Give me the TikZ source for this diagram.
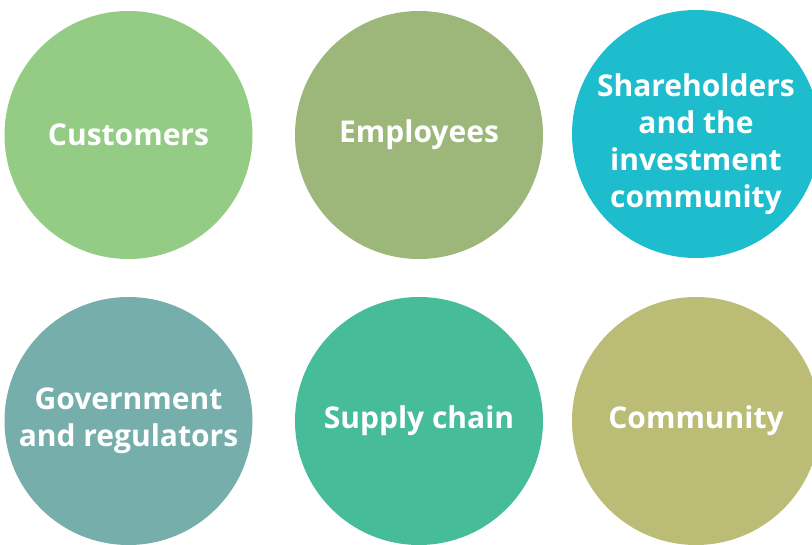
\documentclass[tikz,border=0pt]{standalone}
\usepackage{fontspec}
\setmainfont{Open Sans}
\definecolor{cCust}{HTML}{95CC85}
\definecolor{cEmp}{HTML}{9DB77A}
\definecolor{cShare}{HTML}{1DBDCD}
\definecolor{cGov}{HTML}{76AEAB}
\definecolor{cSup}{HTML}{46BC99}
\definecolor{cComm}{HTML}{BBBC76}
\tikzset{
  stakefont/.style={text=white, font=\fontsize{30}{37}\selectfont\bfseries, align=center},
  stake/.style={circle, minimum size=248pt, inner sep=0pt, stakefont}
}
\begin{document}
\begin{tikzpicture}[x=1pt,y=-1pt]
\useasboundingbox (0,0) rectangle (812,545);
\begin{scope}
\clip (0,0) rectangle (812,545);
\node[stake, fill=cCust] (cust) at (128.5,135) {Customers};
\node[stake, fill=cEmp] (emp) at (419,135) {Employees};
\node[stake, fill=cShare] (share) at (696,134) {};
\node[stakefont] (sharetext) at (696,144) {Shareholders\\and the\\investment\\community};
\node[stake, fill=cGov] (gov) at (128.5,421) {Government\\and regulators};
\node[stake, fill=cSup] (sup) at (419,421) {Supply chain};
\node[stake, fill=cComm] (comm) at (696,421) {Community};
\end{scope}
\end{tikzpicture}
\end{document}
